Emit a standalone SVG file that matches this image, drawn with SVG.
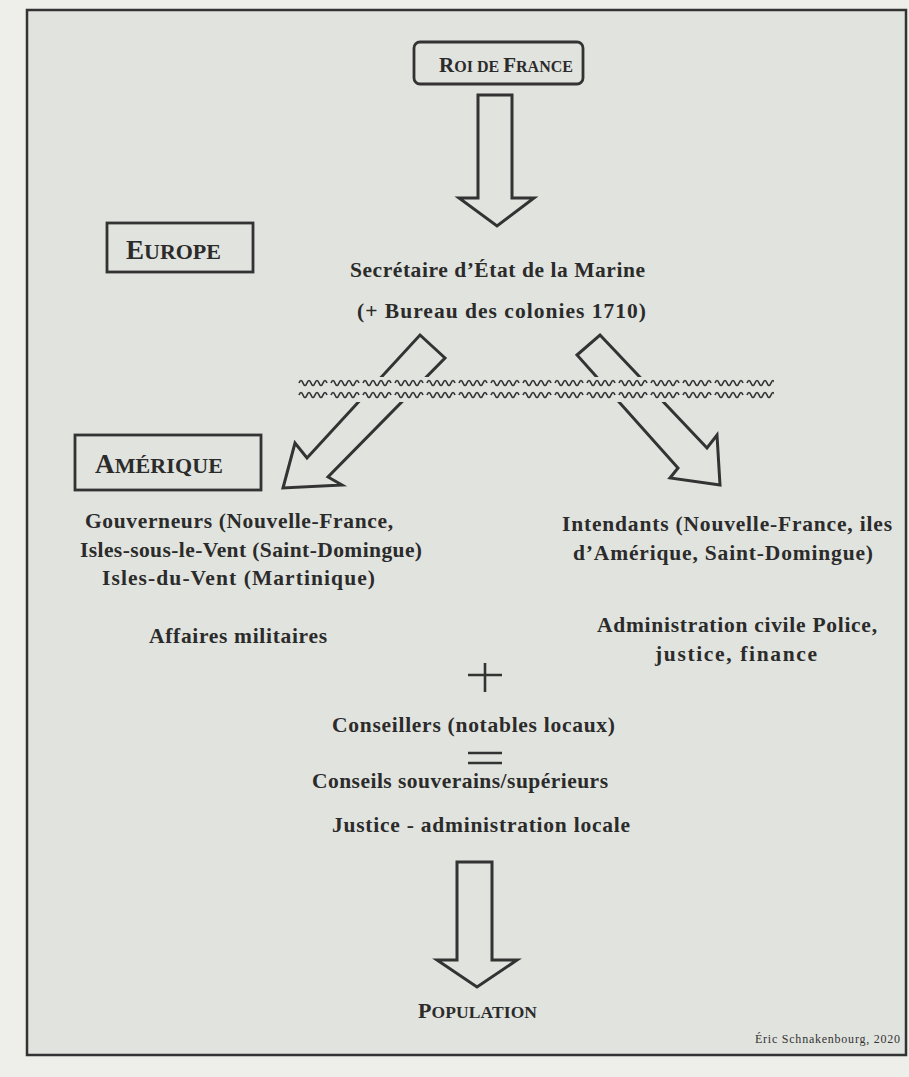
<svg xmlns="http://www.w3.org/2000/svg" width="909" height="1077" viewBox="0 0 909 1077">
<style>
.t{font-family:"Liberation Serif","Times New Roman",serif;font-weight:bold;font-size:21.5px;fill:#2b2b2b}
.sc{font-family:"Liberation Serif","Times New Roman",serif;font-weight:bold;fill:#2b2b2b}
.box{fill:none;stroke:#333;stroke-width:2.8}
.arrow{fill:none;stroke:#333;stroke-width:3;stroke-linejoin:miter}
.op{stroke:#333;stroke-width:2.6;fill:none}
.cr{font-family:"Liberation Serif","Times New Roman",serif;font-size:12px;fill:#333}
</style>
<defs>
<pattern id="wave" width="32" height="12" patternUnits="userSpaceOnUse" x="298" y="377">
<path d="M1,6 q2,-5 4,0 t4,0 t4,0 t4,0 t4,0 t4,0 t4,0" fill="none" stroke="#333" stroke-width="1.7"/>
</pattern>
</defs>
<rect x="0" y="0" width="909" height="1077" fill="#eeeeea"/>
<rect x="27" y="10" width="879" height="1045" fill="#e1e3de" stroke="#333" stroke-width="2.5"/>

<g id="connectors">
<polygon class="arrow" points="478,95 512,95 512,198 534,198 497,226 459,198 478,198"/>
<polygon class="arrow" points="420,335 445,358 328,477 342,485 283,488 295,443 307,458"/>
<polygon class="arrow" points="600,335 707,448 717,435 720,485 670,478 678,468 577,355"/>
<polygon class="arrow" points="457,862 492,862 492,960 517,960 477,987 437,960 457,960"/>
<rect x="296" y="377" width="482" height="25" fill="#e1e3de"/>
<rect x="298" y="377" width="476" height="12" fill="url(#wave)"/>
<rect x="298" y="389" width="476" height="12" fill="url(#wave)"/>
<g id="plus"><line class="op" x1="485" y1="663" x2="485" y2="692"/><line class="op" x1="468" y1="675" x2="502" y2="675"/></g>
<g id="equals"><line class="op" x1="468" y1="753" x2="502" y2="753"/><line class="op" x1="468" y1="763" x2="502" y2="763"/></g>
</g>

<g id="roi">
<rect class="box" x="414" y="42" width="169" height="42" rx="6"/>
<text class="sc" x="439" y="72" textLength="134" lengthAdjust="spacing"><tspan font-size="21">R</tspan><tspan font-size="16">OI DE </tspan><tspan font-size="21">F</tspan><tspan font-size="16">RANCE</tspan></text>
</g>

<g id="europe">
<rect class="box" x="107" y="223" width="146" height="49"/>
<text class="sc" x="126" y="259" textLength="95" lengthAdjust="spacing"><tspan font-size="27">E</tspan><tspan font-size="22">UROPE</tspan></text>
</g>

<g id="secretaire">
<text class="t" x="350" y="277" textLength="295" lengthAdjust="spacing">Secrétaire d’État de la Marine</text>
<text class="t" x="357" y="318" textLength="289" lengthAdjust="spacing">(+ Bureau des colonies 1710)</text>
</g>

<g id="amerique">
<rect class="box" x="75" y="435" width="186" height="55"/>
<text class="sc" x="95" y="473" textLength="128" lengthAdjust="spacing"><tspan font-size="27">A</tspan><tspan font-size="22">MÉRIQUE</tspan></text>
</g>

<g id="gouverneurs">
<text class="t" x="85" y="528" textLength="308" lengthAdjust="spacing">Gouverneurs (Nouvelle-France,</text>
<text class="t" x="80" y="557" textLength="342" lengthAdjust="spacing">Isles-sous-le-Vent (Saint-Domingue)</text>
<text class="t" x="102" y="585" textLength="273" lengthAdjust="spacing">Isles-du-Vent (Martinique)</text>
<text class="t" x="149" y="643" textLength="178" lengthAdjust="spacing">Affaires militaires</text>
</g>

<g id="intendants">
<text class="t" x="562" y="531" textLength="330" lengthAdjust="spacing">Intendants (Nouvelle-France, iles</text>
<text class="t" x="573" y="560" textLength="300" lengthAdjust="spacing">d’Amérique, Saint-Domingue)</text>
<text class="t" x="597" y="632" textLength="280" lengthAdjust="spacing">Administration civile Police,</text>
<text class="t" x="655" y="661" textLength="162" lengthAdjust="spacing">justice, finance</text>
</g>

<g id="conseillers">
<text class="t" x="332" y="732" textLength="283" lengthAdjust="spacing">Conseillers (notables locaux)</text>
</g>

<g id="conseils">
<text class="t" x="312" y="788" textLength="296" lengthAdjust="spacing">Conseils souverains/supérieurs</text>
<text class="t" x="332" y="832" textLength="298" lengthAdjust="spacing">Justice - administration locale</text>
</g>

<g id="population">
<text class="sc" x="418" y="1018" textLength="119" lengthAdjust="spacing"><tspan font-size="22">P</tspan><tspan font-size="17.5">OPULATION</tspan></text>
</g>

<g id="credit">
<text class="cr" x="755" y="1043" textLength="145" lengthAdjust="spacing">Éric Schnakenbourg, 2020</text>
</g>
</svg>
